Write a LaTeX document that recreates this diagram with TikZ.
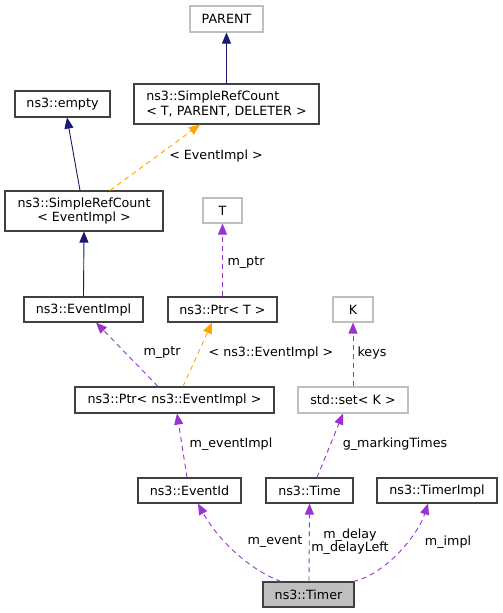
\documentclass[tikz,border=0pt]{standalone}
\usepackage{fontspec}
\setmainfont{DejaVu Sans}
\usetikzlibrary{arrows.meta}
\definecolor{navyc}{RGB}{25,25,112}
\definecolor{purplec}{RGB}{154,50,205}
\definecolor{orangec}{RGB}{255,165,0}
\definecolor{greyb}{RGB}{191,191,191}
\definecolor{darkb}{RGB}{64,64,64}
\tikzset{
  box/.style={draw=darkb, line width=1.1bp, fill=white, inner sep=0pt, align=center, font=\fontsize{12.7bp}{14.3bp}\selectfont},
  gbox/.style={box, draw=greyb},
  lbl/.style={inner sep=0pt, font=\fontsize{12.7bp}{14bp}\selectfont},
  tip/.style={-{Triangle[length=11bp,width=9bp]}},
  inh/.style={tip, draw=navyc, line width=0.9bp},
  use/.style={tip, draw=purplec, line width=0.9bp, dash pattern=on 5bp off 4bp},
  tmpl/.style={tip, draw=orangec, line width=0.9bp, dash pattern=on 5bp off 4bp},
}
\begin{document}
\begin{tikzpicture}[x=1bp,y=-1bp]
\useasboundingbox (0,0) rectangle (503,613);
% nodes
\node[gbox, minimum width=73bp, minimum height=26bp] (parent) at (226.5,19) {PARENT};
\node[box, minimum width=185bp, minimum height=40bp, align=left] (srcT) at (226.5,104) {ns3::SimpleRefCount\\{<} T, PARENT, DELETER {>}};
\node[box, minimum width=95bp, minimum height=26bp] (empty) at (62.5,104) {ns3::empty};
\node[box, minimum width=158bp, minimum height=40bp] (srcE) at (84,211) {ns3::SimpleRefCount\\{<} EventImpl {>}};
\node[gbox, minimum width=39bp, minimum height=25bp] (T) at (222.5,210.5) {T};
\node[box, minimum width=119bp, minimum height=25bp] (eimpl) at (83.5,309.5) {ns3::EventImpl};
\node[box, minimum width=109bp, minimum height=25bp] (ptrT) at (222.5,309.5) {ns3::Ptr{<} T {>}};
\node[gbox, minimum width=40bp, minimum height=25bp] (K) at (353,309.5) {K};
\node[box, minimum width=199bp, minimum height=26bp] (ptrE) at (174.5,400) {ns3::Ptr{<} ns3::EventImpl {>}};
\node[gbox, minimum width=110bp, minimum height=26bp] (setK) at (353,400) {std::set{<} K {>}};
\node[box, minimum width=103bp, minimum height=25bp] (eid) at (189.5,490.5) {ns3::EventId};
\node[box, minimum width=87bp, minimum height=25bp] (time) at (309.5,490.5) {ns3::Time};
\node[box, minimum width=120bp, minimum height=25bp] (timpl) at (437,490.5) {ns3::TimerImpl};
\node[box, fill=greyb, minimum width=91bp, minimum height=25bp] (timer) at (308.5,594.5) {ns3::Timer};
% edges
\draw[inh] (srcT.north) -- (parent.south);
\draw[inh] ([xshift=-4bp]srcE.north) -- ([xshift=4.5bp]empty.south);
\draw[tmpl] ([xshift=26bp]srcE.north) -- ([xshift=-26.5bp]srcT.south);
\draw[inh] (eimpl.north) -- (srcE.south);
\draw[use] (ptrT.north) -- (T.south);
\draw[use] ([xshift=-16.5bp]ptrE.north) -- ([xshift=12.5bp]eimpl.south);
\draw[tmpl] ([xshift=8.5bp]ptrE.north) -- ([xshift=-10.5bp]ptrT.south);
\draw[use] (setK.north) -- (K.south);
\draw[use] ([xshift=-2.5bp]eid.north) -- ([xshift=2.5bp]ptrE.south);
\draw[use] ([xshift=7.5bp]time.north) -- ([xshift=-10bp]setK.south);
\draw[use] ([xshift=-27.5bp]timer.north) .. controls (245,568) and (215,535) .. ([xshift=8.5bp]eid.south);
\draw[use] ([xshift=0.5bp]timer.north) -- (time.south);
\draw[use] ([xshift=44.5bp]timer.north) .. controls (385,575) and (418,535) .. ([xshift=-9bp]timpl.south);
% labels
\node[lbl] (l1) at (216,156) {{<} EventImpl {>}};
\node[lbl] (l2) at (246,263) {m\_ptr};
\node[lbl] (l3) at (162,353) {m\_ptr};
\node[lbl] (l4) at (271,353) {{<} ns3::EventImpl {>}};
\node[lbl] (l5) at (372,353) {keys};
\node[lbl] (l6) at (231,444) {m\_eventImpl};
\node[lbl] (l7) at (395,444) {g\_markingTimes};
\node[lbl] (l8) at (275,542) {m\_event};
\node[lbl, align=center, font=\fontsize{12.7bp}{13bp}\selectfont] (l9) at (350,541.5) {m\_delay\\m\_delayLeft};
\node[lbl] (l10) at (448,542) {m\_impl};
\end{tikzpicture}
\end{document}
